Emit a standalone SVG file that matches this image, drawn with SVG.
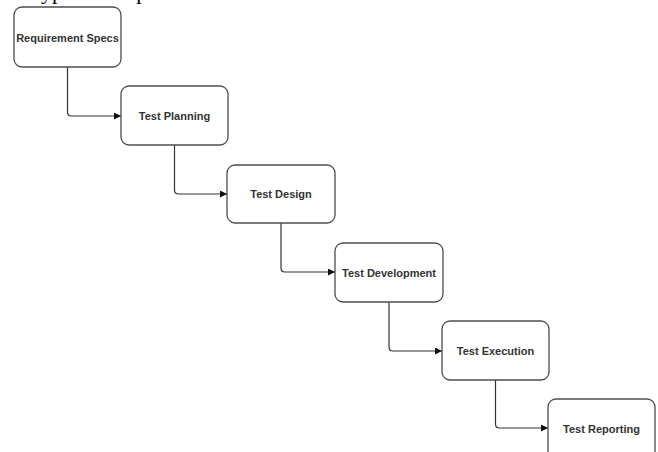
<svg xmlns="http://www.w3.org/2000/svg" width="658" height="452" viewBox="0 0 658 452">
  <defs>
    <style>
      .box { fill: #ffffff; stroke: #4d4d4d; stroke-width: 1.3; }
      .lbl { font-family: "Liberation Sans", Arial, sans-serif; font-size: 11px; font-weight: bold; fill: #333333; text-anchor: middle; dominant-baseline: central; }
      .conn { fill: none; stroke: #333333; stroke-width: 1.2; }
      .title { font-family: "Liberation Serif", "Times New Roman", serif; font-size: 22px; fill: #000000; }
    </style>
    <marker id="arrow" viewBox="0 0 10 10" refX="10" refY="5" markerWidth="7" markerHeight="7" markerUnits="userSpaceOnUse" orient="auto">
      <path d="M0,0 L10,5 L0,10 z" fill="#111111"/>
    </marker>
  </defs>
  <rect width="658" height="452" fill="#ffffff"/>
  <text class="title" x="29" y="-1">Typical test process</text>

  <g id="connectors">
    <path class="conn" d="M67.5,67 V112 Q67.5,116 71.5,116 H121" marker-end="url(#arrow)"/>
    <path class="conn" d="M174.5,145 V190 Q174.5,194 178.5,194 H227" marker-end="url(#arrow)"/>
    <path class="conn" d="M281,223 V268 Q281,272 285,272 H335" marker-end="url(#arrow)"/>
    <path class="conn" d="M389,302 V347 Q389,351 393,351 H442" marker-end="url(#arrow)"/>
    <path class="conn" d="M495.5,380 V424 Q495.5,428 499.5,428 H548" marker-end="url(#arrow)"/>
  </g>

  <g id="node-requirement-specs">
    <rect class="box" x="14" y="7" width="107" height="60" rx="8"/>
    <text class="lbl" x="67.5" y="38">Requirement Specs</text>
  </g>
  <g id="node-test-planning">
    <rect class="box" x="121" y="86" width="107" height="59" rx="8"/>
    <text class="lbl" x="174.5" y="116">Test Planning</text>
  </g>
  <g id="node-test-design">
    <rect class="box" x="227" y="165" width="108" height="58" rx="8"/>
    <text class="lbl" x="281" y="194">Test Design</text>
  </g>
  <g id="node-test-development">
    <rect class="box" x="335" y="243" width="108" height="59" rx="8"/>
    <text class="lbl" x="389" y="273">Test Development</text>
  </g>
  <g id="node-test-execution">
    <rect class="box" x="442" y="321" width="107" height="59" rx="8"/>
    <text class="lbl" x="495.5" y="351">Test Execution</text>
  </g>
  <g id="node-test-reporting">
    <rect class="box" x="548" y="399" width="107" height="60" rx="8"/>
    <text class="lbl" x="601.5" y="429">Test Reporting</text>
  </g>
</svg>
